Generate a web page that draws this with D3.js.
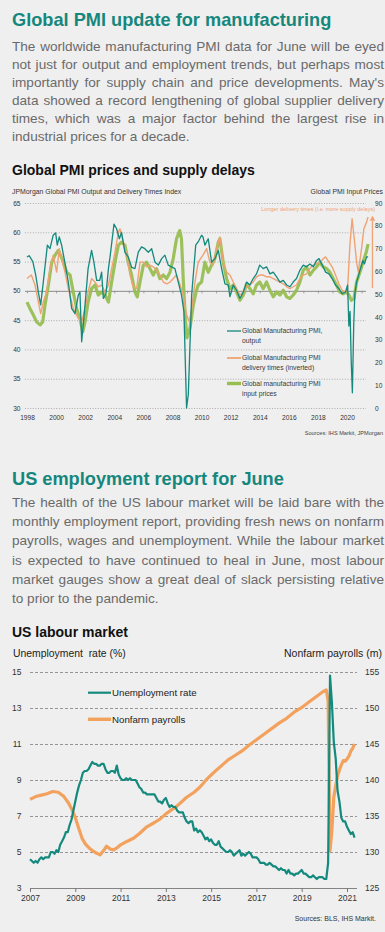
<!DOCTYPE html>
<html>
<head>
<meta charset="utf-8">
<script src="https://cdn.jsdelivr.net/npm/d3@7"></script>
<style>
  body { margin: 0; background: #efefef; }
  #page { position: relative; width: 385px; height: 932px; overflow: hidden;
          font-family: Arial, "Liberation Sans", sans-serif; }
  svg { position: absolute; left: 0; top: 0; }
  .para { position: absolute; left: 12px; width: 372px; color: #6a6a6a; font-size: 13.6px; }
  .para div { text-align: justify; text-align-last: justify; }
  .para div.last { text-align-last: left; }
</style>
</head>
<body>
<div id="page"></div>
<script>
// ---- text ----
var para1 = [
  "The worldwide manufacturing PMI data for June will be eyed",
  "not just for output and employment trends, but perhaps most",
  "importantly for supply chain and price developments. May's",
  "data showed a record lengthening of global supplier delivery",
  "times, which was a major factor behind the largest rise in",
  "industrial prices for a decade."
];
var para2 = [
  "The health of the US labour market will be laid bare with the",
  "monthly employment report, providing fresh news on nonfarm",
  "payrolls, wages and unemployment. While the labour market",
  "is expected to have continued to heal in June, most labour",
  "market gauges show a great deal of slack persisting relative",
  "to prior to the pandemic."
];

// ---- chart 1 data: [year, value] ----
var pmiYears = [1998, 2000, 2002, 2004, 2006, 2008, 2010, 2012, 2014, 2016, 2018, 2020];
var pmiLeftTicks = [30, 35, 40, 45, 50, 55, 60, 65];
var pmiRightTicks = [0, 10, 20, 30, 40, 50, 60, 70, 80, 90];

// Global Manufacturing PMI, output (left axis)
var pmiOutput = [[1998.0,55.8],[1998.15,56],[1998.4,55],[1998.6,52.7],[1998.8,49.5],[1998.94,47.6],[1999.12,51.5],[1999.4,57.8],[1999.58,57.2],[1999.8,59.5],[1999.97,59.9],[2000.08,57.8],[2000.22,59.2],[2000.38,57.8],[2000.6,54.9],[2000.84,51.5],[2001.07,47],[2001.3,46.1],[2001.53,49.3],[2001.64,49.8],[2001.76,41.3],[2001.99,47.6],[2002.2,53.8],[2002.44,56.9],[2002.6,54.9],[2002.79,51.8],[2003.0,51.8],[2003.13,53.2],[2003.25,48.7],[2003.43,49.5],[2003.6,53.8],[2003.75,56.6],[2003.98,61.4],[2004.16,60.6],[2004.35,58.9],[2004.5,60],[2004.73,56.6],[2004.96,55.8],[2005.2,54],[2005.42,53.8],[2005.65,56.6],[2005.88,57.5],[2006.1,57.2],[2006.34,56.6],[2006.57,57.2],[2006.8,54.9],[2007.03,54.4],[2007.26,55.5],[2007.48,56.1],[2007.71,54.4],[2007.94,54.1],[2008.17,53.8],[2008.4,51.5],[2008.62,49.3],[2008.79,46.4],[2008.97,30],[2009.09,32.3],[2009.32,49.3],[2009.6,57.8],[2009.8,58.5],[2010.0,59.5],[2010.1,59.2],[2010.23,57.8],[2010.46,58.9],[2010.69,54.9],[2010.92,55.5],[2011.15,56.9],[2011.38,53.8],[2011.61,51.2],[2011.84,51],[2011.95,49],[2012.18,51],[2012.41,50.1],[2012.64,48.7],[2012.87,49.8],[2013.1,51.5],[2013.32,51],[2013.55,52.1],[2013.78,52.9],[2014.0,54.4],[2014.24,53.8],[2014.47,54.1],[2014.7,52.9],[2014.93,53.2],[2015.16,52.4],[2015.39,51.5],[2015.62,51.8],[2015.85,51],[2016.08,50.7],[2016.3,51.5],[2016.53,52.1],[2016.76,53.5],[2016.99,54.4],[2017.22,54.1],[2017.45,54.6],[2017.68,54.1],[2017.91,55.2],[2018.07,55.5],[2018.3,54.4],[2018.53,53.2],[2018.76,52.9],[2018.98,52.1],[2019.21,51],[2019.44,50.4],[2019.67,49.5],[2019.9,49.8],[2020.04,51],[2020.13,44],[2020.21,46.5],[2020.29,38],[2020.37,32.6],[2020.46,44],[2020.54,49.5],[2020.66,51.5],[2020.89,53.5],[2021.1,55.2],[2021.2,54.6],[2021.35,55.8],[2021.45,55.8]];

// Global Manufacturing PMI delivery times, inverted (left axis)
var pmiDelivery = [[1998.0,52.1],[1998.3,52.7],[1998.55,51],[1998.78,48.1],[1998.94,46.1],[1999.12,48.1],[1999.35,49.8],[1999.58,53.8],[1999.8,56.1],[2000.04,53.2],[2000.22,57.2],[2000.38,55.5],[2000.61,53.2],[2000.84,50.4],[2001.18,47],[2001.53,45.3],[2001.76,44.7],[2001.99,47],[2002.2,49.8],[2002.44,52.1],[2002.67,51.5],[2002.9,50.7],[2003.13,51],[2003.36,49.8],[2003.6,51],[2003.82,53.8],[2004.05,56.6],[2004.28,60],[2004.39,60.6],[2004.62,58.3],[2004.85,56.3],[2005.08,52.7],[2005.3,50.7],[2005.54,50.4],[2005.77,54.9],[2006.0,54.9],[2006.22,54.1],[2006.45,54.4],[2006.68,54.1],[2006.91,53.5],[2007.14,52.7],[2007.37,51.5],[2007.6,51.2],[2007.83,51.5],[2008.06,52.1],[2008.28,52.7],[2008.5,51.2],[2008.74,49.3],[2008.97,45.9],[2009.16,44.7],[2009.32,47],[2009.55,51.5],[2009.77,54.9],[2010.1,56.1],[2010.35,57.2],[2010.57,54.9],[2010.8,54.4],[2011.03,57.2],[2011.26,59.2],[2011.49,54.9],[2011.72,53.2],[2011.95,52.7],[2012.18,51.5],[2012.41,50.4],[2012.64,49.3],[2012.87,49.8],[2013.1,50.7],[2013.32,51],[2013.55,51.5],[2013.78,52.4],[2014.0,52.7],[2014.24,52.7],[2014.47,52.4],[2014.7,52.4],[2014.93,52.1],[2015.16,51.8],[2015.39,51.5],[2015.62,51.2],[2015.85,50.7],[2016.08,50.4],[2016.3,50.7],[2016.53,51],[2016.76,52.1],[2016.99,52.7],[2017.22,52.9],[2017.45,53.8],[2017.68,54.4],[2017.9,54.6],[2018.13,54.9],[2018.37,55.5],[2018.53,55.8],[2018.76,54.9],[2018.98,54.1],[2019.21,52.7],[2019.44,51.2],[2019.67,50.1],[2019.9,49.8],[2020.04,50.4],[2020.2,57.8],[2020.35,62.3],[2020.5,58.9],[2020.66,54.9],[2020.78,53.2],[2020.89,55.2],[2021.0,57.2],[2021.16,60.6],[2021.34,61.7],[2021.45,62.6]];

// Global manufacturing PMI input prices (right axis)
var pmiPrices = [[1998.0,46.5],[1998.2,43.7],[1998.43,40.9],[1998.66,37.8],[1998.9,36.5],[1999.08,37.8],[1999.24,45.2],[1999.47,54.0],[1999.7,64.0],[1999.93,67.1],[2000.15,69.2],[2000.3,67.1],[2000.5,64.0],[2000.73,59.6],[2000.96,58.4],[2001.18,50.9],[2001.41,43.7],[2001.64,39.3],[2001.83,33.4],[2001.99,37.8],[2002.2,46.5],[2002.44,52.4],[2002.67,54.0],[2002.9,49.6],[2003.13,50.9],[2003.36,49.6],[2003.6,46.5],[2003.82,55.3],[2004.05,64.0],[2004.28,71.5],[2004.5,72.8],[2004.73,71.5],[2004.96,64.0],[2005.19,58.4],[2005.42,50.9],[2005.58,48.8],[2005.77,55.3],[2006.0,62.7],[2006.22,64.0],[2006.45,61.2],[2006.68,58.4],[2006.9,61.2],[2007.14,56.8],[2007.37,58.4],[2007.6,56.8],[2007.83,59.6],[2008.05,65.5],[2008.28,74.3],[2008.5,77.9],[2008.62,74.3],[2008.74,56.8],[2008.9,37.8],[2009.0,30.8],[2009.2,35.0],[2009.43,45.0],[2009.62,50.9],[2009.77,54.0],[2010.0,55.3],[2010.23,64.0],[2010.46,59.6],[2010.69,62.7],[2010.92,65.5],[2011.15,72.8],[2011.26,74.3],[2011.49,64.0],[2011.72,56.8],[2011.95,52.4],[2012.18,54.0],[2012.41,50.9],[2012.64,47.3],[2012.87,49.6],[2013.1,54.5],[2013.32,52.4],[2013.55,50.1],[2013.78,54.0],[2014.0,55.3],[2014.24,52.4],[2014.47,55.3],[2014.7,51.7],[2014.93,48.8],[2015.16,50.9],[2015.39,49.6],[2015.62,51.7],[2015.85,48.8],[2016.08,48.1],[2016.3,49.6],[2016.53,51.7],[2016.76,55.3],[2016.99,60.4],[2017.22,61.9],[2017.45,58.4],[2017.68,60.4],[2017.9,61.9],[2018.13,64.0],[2018.37,61.9],[2018.6,61.2],[2018.83,59.6],[2019.05,56.8],[2019.28,54.0],[2019.51,50.9],[2019.74,50.1],[2019.97,50.9],[2020.13,49.6],[2020.3,47.3],[2020.48,48.1],[2020.66,55.3],[2020.89,59.6],[2021.1,64.0],[2021.32,68.4],[2021.45,72.0]];

// arrow annotation, in data units: [year, from, to] on the left axis
var delayArrow = [2021.75, 50.5, 62.6];

// ---- chart 2 data ----
var usYears = [2007, 2009, 2011, 2013, 2015, 2017, 2019, 2021];
var usLeftTicks = [3, 5, 7, 9, 11, 13, 15];
var usRightTicks = [125, 130, 135, 140, 145, 150, 155];

// Unemployment rate (%), monthly from Jan 2007
var unempStart = 2007;
var unemp = [
  4.6,4.5,4.4,4.5,4.4,4.6,4.7,4.6,4.7,4.7,4.7,5.0,
  5.0,4.9,5.1,5.0,5.4,5.6,5.8,6.1,6.1,6.5,6.8,7.3,
  7.8,8.3,8.7,9.0,9.4,9.5,9.5,9.6,9.8,10.0,9.9,9.9,
  9.8,9.8,9.9,9.9,9.6,9.4,9.4,9.5,9.5,9.4,9.8,9.3,
  9.1,9.0,9.0,9.1,9.0,9.1,9.0,9.0,9.0,8.8,8.6,8.5,
  8.3,8.3,8.2,8.2,8.2,8.2,8.2,8.0,7.8,7.8,7.7,7.9,
  8.0,7.7,7.5,7.6,7.5,7.5,7.3,7.2,7.2,7.2,6.9,6.7,
  6.6,6.7,6.7,6.2,6.3,6.1,6.2,6.1,5.9,5.7,5.8,5.6,
  5.7,5.5,5.4,5.4,5.6,5.3,5.2,5.1,5.0,5.0,5.1,5.0,
  4.8,4.9,5.0,5.1,4.8,4.9,4.8,4.9,5.0,4.9,4.7,4.7,
  4.7,4.6,4.4,4.4,4.4,4.3,4.3,4.4,4.3,4.2,4.2,4.1,
  4.0,4.1,4.0,4.0,3.8,4.0,3.8,3.8,3.7,3.8,3.8,3.9,
  4.0,3.8,3.8,3.7,3.6,3.6,3.7,3.6,3.5,3.6,3.6,3.6,
  3.5,3.5,4.4,14.8,13.3,11.1,10.2,8.4,7.8,6.9,6.7,6.7,
  6.4,6.2,6.0,6.1,5.8
];

// Nonfarm payrolls (m): [year, value]
var payrolls = [[2007.0,137.3],[2007.25,137.7],[2007.5,137.9],[2007.75,138.1],[2008.0,138.4],[2008.25,138.3],[2008.5,137.7],[2008.7,136.8],[2008.85,135.9],[2009.0,134.8],[2009.15,133.3],[2009.3,131.9],[2009.45,131.1],[2009.6,130.6],[2009.75,130.2],[2009.9,129.9],[2010.1,129.6],[2010.25,130.2],[2010.38,130.8],[2010.55,130.4],[2010.7,130.3],[2010.85,130.6],[2011.0,131.0],[2011.3,131.5],[2011.57,131.9],[2011.85,132.6],[2012.16,133.5],[2012.5,134.1],[2012.75,134.6],[2013.0,135.3],[2013.5,136.4],[2013.92,137.6],[2014.25,138.3],[2014.5,139.0],[2014.75,139.9],[2015.0,140.7],[2015.24,141.4],[2015.5,142.1],[2015.75,142.8],[2016.0,143.3],[2016.35,144.0],[2016.7,144.9],[2017.0,145.6],[2017.35,146.4],[2017.7,147.2],[2018.0,147.9],[2018.35,148.6],[2018.7,149.5],[2019.06,150.2],[2019.35,150.9],[2019.65,151.6],[2019.95,152.3],[2020.083,152.5],[2020.167,151.0],[2020.25,130.2],[2020.333,133.0],[2020.417,137.6],[2020.5,139.2],[2020.583,140.6],[2020.667,141.4],[2020.75,142.1],[2020.833,142.7],[2020.917,142.6],[2021.0,142.9],[2021.083,143.3],[2021.167,144.0],[2021.25,144.4],[2021.333,145.0]];

// ---- colours ----
var teal = "#14897d";
var titleTeal = "#16877d";
var orangeThin = "#f0a272";
var green = "#97be52";
var orange = "#f3a25e";
var font = "Arial, 'Liberation Sans', sans-serif";

var page = d3.select('#page');
var svg = page.append('svg').attr('width', 385).attr('height', 932)
    .attr('font-family', font);

// paragraphs, one div per line so the breaks match
function paragraph(lines, top, lh) {
    var p = page.append('div').attr('class', 'para')
        .style('top', top + 'px').style('line-height', lh + 'px');
    p.selectAll('div').data(lines).join('div')
        .classed('last', function(d, i) { return i === lines.length - 1; })
        .text(function(d) { return d; });
}

function label(x, y, txt, size, opts) {
    opts = opts || {};
    return svg.append('text')
        .attr('x', x).attr('y', y)
        .attr('font-size', size)
        .attr('font-weight', opts.bold ? 'bold' : null)
        .attr('text-anchor', opts.anchor || 'start')
        .attr('fill', opts.color || '#222')
        .style('white-space', 'pre')
        .text(txt);
}

function cleanAxis(g, size, color) {
    g.select('.domain').remove();
    g.attr('font-family', font);
    g.selectAll('text').attr('font-size', size).attr('fill', color || '#333');
}

// ================= section 1 =================
label(12, 25.5, 'Global PMI update for manufacturing', 18.2, {bold: true, color: titleTeal});
paragraph(para1, 38, 17.9);

label(12, 175, 'Global PMI prices and supply delays', 14, {bold: true, color: '#111'});
label(12, 194, 'JPMorgan Global PMI Output and Delivery Times Index', 6.9, {color: '#333'});
label(383, 194, 'Global PMI Input Prices', 6.9, {color: '#333', anchor: 'end'});

var x1 = d3.scaleLinear().domain([1998, 2020]).range([27, 347]);
var yL1 = d3.scaleLinear().domain([30, 65]).range([408, 203]);
var yR1 = d3.scaleLinear().domain([0, 90]).range([408, 203]);

// gridlines + left labels
var gL1 = svg.append('g').attr('transform', 'translate(25,0)')
    .call(d3.axisLeft(yL1).tickValues(pmiLeftTicks).tickSize(-341).tickPadding(4.5));
cleanAxis(gL1, 6.6);
gL1.selectAll('.tick line')
    .attr('stroke', function(d) { return d === 50 ? '#8c8c8c' : '#9c9c9c'; })
    .attr('stroke-width', function(d) { return d === 50 ? 1 : 0.8; })
    .attr('stroke-dasharray', function(d) { return d === 50 ? null : '1,1.6'; });

// small year ticks on the 50 line
var gT1 = svg.append('g').attr('transform', 'translate(0,' + yL1(50) + ')')
    .call(d3.axisBottom(x1).tickValues(d3.range(1998, 2022)).tickSize(2.5).tickFormat(''));
gT1.select('.domain').remove();
gT1.selectAll('.tick line').attr('stroke', '#8c8c8c').attr('stroke-width', 0.8);

var gR1 = svg.append('g').attr('transform', 'translate(375,0)')
    .call(d3.axisRight(yR1).tickValues(pmiRightTicks).tickSize(0).tickPadding(0));
cleanAxis(gR1, 6.6);

var gX1 = svg.append('g').attr('transform', 'translate(0,408)')
    .call(d3.axisBottom(x1).tickValues(pmiYears).tickFormat(d3.format('d')).tickSize(0).tickPadding(7));
cleanAxis(gX1, 6.6);

var lineL1 = d3.line().x(function(d) { return x1(d[0]); }).y(function(d) { return yL1(d[1]); });
var lineR1 = d3.line().x(function(d) { return x1(d[0]); }).y(function(d) { return yR1(d[1]); });

svg.append('path').datum(pmiPrices).attr('d', lineR1)
    .attr('fill', 'none').attr('stroke', green).attr('stroke-width', 3.2)
    .attr('stroke-linejoin', 'round').attr('opacity', 0.95);
svg.append('path').datum(pmiDelivery).attr('d', lineL1)
    .attr('fill', 'none').attr('stroke', orangeThin).attr('stroke-width', 1.4)
    .attr('stroke-linejoin', 'round');
svg.append('path').datum(pmiOutput).attr('d', lineL1)
    .attr('fill', 'none').attr('stroke', teal).attr('stroke-width', 1.3)
    .attr('stroke-linejoin', 'round');

// supply delay arrow + note
var ax = x1(delayArrow[0]);
svg.append('line').attr('x1', ax).attr('x2', ax)
    .attr('y1', yL1(delayArrow[1])).attr('y2', yL1(delayArrow[2]) + 4)
    .attr('stroke', orangeThin).attr('stroke-width', 1.3);
svg.append('path')
    .attr('d', d3.symbol().type(d3.symbolTriangle).size(14)())
    .attr('transform', 'translate(' + ax + ',' + (yL1(delayArrow[2]) + 2) + ')')
    .attr('fill', orangeThin);
label(375, 210.5, 'Longer delivery times (i.e. more supply delays)', 5.5, {color: orangeThin, anchor: 'end'});

// legend
var legend1 = [
    {lines: ['Global Manufacturing PMI,', 'output'], color: teal, w: 1.3, y: 331},
    {lines: ['Global Manufacturing PMI', 'delivery times (inverted)'], color: orangeThin, w: 1.8, y: 358},
    {lines: ['Global manufacturing PMI', 'input prices'], color: green, w: 3.4, y: 383.5}
];
legend1.forEach(function(e) {
    svg.append('line').attr('x1', 227).attr('x2', 241).attr('y1', e.y).attr('y2', e.y)
        .attr('stroke', e.color).attr('stroke-width', e.w);
    e.lines.forEach(function(t, i) {
        label(242, e.y + 2.4 + i * 9.8, t, 6.8, {color: '#3a3a3a'});
    });
});

label(383, 435, 'Sources: IHS Markit, JPMorgan', 5.6, {color: '#444', anchor: 'end'});

// ================= section 2 =================
label(12, 484.5, 'US employment report for June', 18.2, {bold: true, color: titleTeal});
paragraph(para2, 493, 19.2);

label(12, 636.7, 'US labour market', 14, {bold: true, color: '#111'});
label(13, 657, 'Unemployment  rate (%)', 10.4, {color: '#222'});
label(382, 657, 'Nonfarm payrolls (m)', 10.5, {color: '#222', anchor: 'end'});

var x2 = d3.scaleLinear().domain([2007, 2021]).range([30, 347]);
var yL2 = d3.scaleLinear().domain([3, 15]).range([888, 672]);
var yR2 = d3.scaleLinear().domain([125, 155]).range([888, 672]);

var gL2 = svg.append('g').attr('transform', 'translate(30,0)')
    .call(d3.axisLeft(yL2).tickValues(usLeftTicks).tickSize(-327).tickPadding(8.5));
cleanAxis(gL2, 8.5);
gL2.selectAll('.tick line')
    .attr('stroke', function(d) { return d === 3 ? '#777' : '#8a8a8a'; })
    .attr('stroke-width', 0.9)
    .attr('stroke-dasharray', function(d) { return d === 3 ? null : '3,2'; });

var gR2 = svg.append('g').attr('transform', 'translate(365,0)')
    .call(d3.axisRight(yR2).tickValues(usRightTicks).tickSize(0).tickPadding(0));
cleanAxis(gR2, 8.5);

var gX2 = svg.append('g').attr('transform', 'translate(0,888)')
    .call(d3.axisBottom(x2).tickValues(usYears).tickFormat(d3.format('d')).tickSize(4).tickPadding(3));
cleanAxis(gX2, 8.5);
gX2.selectAll('.tick line').attr('stroke', '#777');

var unempPts = unemp.map(function(v, i) { return [unempStart + i / 12, v]; });

svg.append('path').datum(payrolls)
    .attr('d', d3.line().x(function(d) { return x2(d[0]); }).y(function(d) { return yR2(d[1]); }))
    .attr('fill', 'none').attr('stroke', orange).attr('stroke-width', 3.2)
    .attr('stroke-linejoin', 'round');
svg.append('path').datum(unempPts)
    .attr('d', d3.line().x(function(d) { return x2(d[0]); }).y(function(d) { return yL2(d[1]); }))
    .attr('fill', 'none').attr('stroke', teal).attr('stroke-width', 2.2)
    .attr('stroke-linejoin', 'round');

var legend2 = [
    {name: 'Unemployment rate', color: teal, w: 2.2, y: 692.7},
    {name: 'Nonfarm payrolls', color: orange, w: 3.4, y: 719.3}
];
legend2.forEach(function(e) {
    svg.append('line').attr('x1', 88).attr('x2', 111).attr('y1', e.y).attr('y2', e.y)
        .attr('stroke', e.color).attr('stroke-width', e.w);
    label(112, e.y + 3.5, e.name, 9.7, {color: '#222'});
});

label(376, 921, 'Sources: BLS, IHS Markit.', 7, {color: '#333', anchor: 'end'});
</script>
</body>
</html>
